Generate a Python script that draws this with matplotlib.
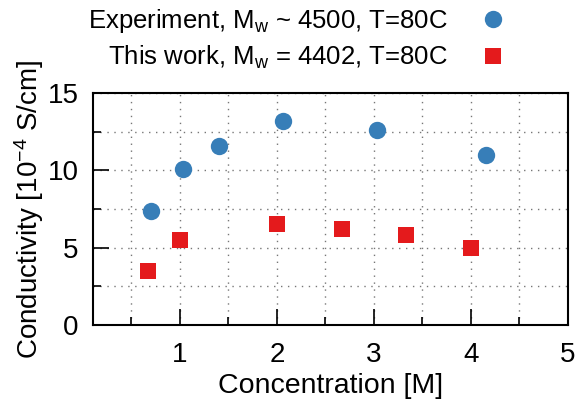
import matplotlib
matplotlib.use("Agg")
import matplotlib.pyplot as plt
from matplotlib.ticker import MultipleLocator

plt.rcParams['font.family'] = ['Liberation Sans', 'DejaVu Sans']
plt.rcParams['mathtext.fontset'] = 'custom'
plt.rcParams['mathtext.rm'] = 'Liberation Sans'
plt.rcParams['mathtext.it'] = 'Liberation Sans:italic'
plt.rcParams['mathtext.bf'] = 'Liberation Sans:bold'

exp_conc = [0.70, 1.03, 1.40, 2.06, 3.03, 4.16]
exp_cond = [7.4, 10.1, 11.6, 13.2, 12.6, 11.0]
work_conc = [0.67, 1.0, 2.0, 2.67, 3.33, 4.0]
work_cond = [3.5, 5.5, 6.5, 6.2, 5.8, 5.0]
exp_label = r"Experiment, M$_{\mathrm{w}}$ ~ 4500, T=80C"
work_label = r"This work, M$_{\mathrm{w}}$ = 4402, T=80C"
x_ticks = [1, 2, 3, 4, 5]
y_ticks = [0, 5, 10, 15]

fs = 20
fig = plt.figure(figsize=(5.79, 4.11), dpi=100)
ax = fig.add_axes([0.160, 0.2092, 0.8205, 0.5645])

ax.plot(exp_conc, exp_cond, 'o', color='#377eb8', markersize=12.5, markeredgewidth=0, label=exp_label)
ax.plot(work_conc, work_cond, 's', color='#e41a1c', markersize=12, markeredgewidth=0, label=work_label)

ax.set_xlim(0.1, 5)
ax.set_ylim(0, 15)
ax.set_xticks(x_ticks)
ax.set_yticks(y_ticks)
ax.xaxis.set_minor_locator(MultipleLocator(0.5))
ax.yaxis.set_minor_locator(MultipleLocator(2.5))
ax.tick_params(which='major', direction='in', length=11.5, width=1.2, labelsize=fs, pad=10,
               top=False, right=False)
ax.tick_params(which='minor', direction='in', length=6, width=1.2, top=False, right=False)
ax.tick_params(axis='x', which='major', pad=12)
ax.grid(True, which='both', linestyle=(0, (1, 4)), color='#777777', linewidth=1.0)
for s in ax.spines.values():
    s.set_linewidth(1.5)

ax.set_xlabel("Concentration [M]", fontsize=20.5, labelpad=4)
ax.set_ylabel(r"Conductivity [10$^{-4}$ S/cm]", fontsize=20, labelpad=1)

leg = fig.legend(loc='upper right', bbox_to_anchor=(0.895, 0.983), frameon=False, fontsize=18.5,
                 markerfirst=False, borderpad=0, borderaxespad=0, labelspacing=0.36,
                 handletextpad=0.75, handlelength=2.0)

fig.savefig("out.png", dpi=100)
